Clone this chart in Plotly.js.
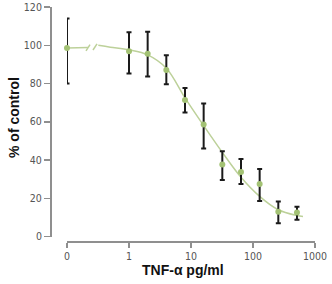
<!DOCTYPE html>
<html>
<head>
<meta charset="utf-8">
<script src="https://cdn.plot.ly/plotly-3.0.1.min.js"></script>
<style>
  html, body { margin: 0; padding: 0; background: #fff; }
  #chart { width: 332px; height: 284px; }
</style>
</head>
<body>
<div id="chart"></div>
<script>
// Dose-response of TNF-α: mean % of control with error bars, plus fitted curve
const controlMean = [98.5];
const controlErrPlus = [15.5];
const controlErrMinus = [18.5];

const doses = [1, 2, 4, 8, 16, 32, 64, 128, 256, 512];          // pg/ml
const meanPct = [96.8, 95.6, 87, 71.4, 58.6, 37.6, 33.7, 27.4, 13, 12.5];
const errPlus = [10, 11.4, 7.8, 6.2, 11, 7, 6.8, 7.9, 5.3, 3.1];
const errMinus = [11.6, 12, 7.4, 6.6, 12.6, 8, 6.3, 8.8, 6.1, 3.8];

// fitted curve, sampled along the dose axis
const fitDoses = [0.32, 0.5, 1, 2, 4, 8, 16, 32, 64, 128, 256, 512, 640];
const fitPct = [100, 99, 97.6, 95, 88, 72.5, 58, 44, 31, 21, 14, 11, 10.5];

const xTickVals = [1, 10, 100, 1000];
const xTickText = ['1', '10', '100', '1000'];
const yTickVals = [0, 20, 40, 60, 80, 100, 120];

const GREEN_LINE = '#bdd19a';
const GREEN_PT = '#a3c274';
const AXIS = '#8f8f8f';
const TICKFONT = { family: 'Liberation Sans Narrow, DejaVu Sans Condensed, Arial Narrow, sans-serif', size: 10.5, color: '#555' };
const TITLEFONT = { family: 'Liberation Sans, Arial, sans-serif', size: 14, color: '#111', weight: 'bold' };

// plot area in pixels: x 50..315, y 7..241
const L = 50, R = 17, T = 7, B = 43, W = 332, H = 284;
const plotW = W - L - R, plotH = H - T - B;
const px = v => (v - L) / plotW;            // pixel -> paper x
const breakEnd = 97;                          // end of the "0" segment of the dose axis
const decadePx = 62;                          // one decade on the log axis
const logStart = -(129 - breakEnd) / decadePx;

const errStyle = (plus, minus) => ({
  type: 'data', symmetric: false, array: plus, arrayminus: minus,
  color: '#1a1a1a', thickness: 2, width: 2.5
});

const connectorEnd = 0.7;  // where the control line reaches the axis break

const traces = [
  { // control level carried toward the axis break
    x: [0, connectorEnd], y: [controlMean[0], controlMean[0] + 0.3],
    xaxis: 'x', yaxis: 'y', mode: 'lines',
    line: { color: GREEN_LINE, width: 1.5 }, cliponaxis: false, hoverinfo: 'skip'
  },
  { // control point
    x: [0], y: controlMean, xaxis: 'x', yaxis: 'y', mode: 'markers',
    marker: { color: GREEN_PT, size: 6 },
    error_y: errStyle(controlErrPlus, controlErrMinus), cliponaxis: false
  },
  { // fitted curve
    x: fitDoses, y: fitPct, xaxis: 'x2', yaxis: 'y', mode: 'lines',
    line: { color: GREEN_LINE, width: 1.5, shape: 'spline', smoothing: 1 },
    cliponaxis: false, hoverinfo: 'skip'
  },
  { // dose means
    x: doses, y: meanPct, xaxis: 'x2', yaxis: 'y', mode: 'markers',
    marker: { color: GREEN_PT, size: 6 },
    error_y: errStyle(errPlus, errMinus), cliponaxis: false
  }
];

const slash = (xc, yc) => ({
  type: 'line', xref: 'paper', yref: 'y',
  x0: px(xc - 2), x1: px(xc + 2), y0: yc - 1.6, y1: yc + 1.6,
  line: { color: GREEN_LINE, width: 1.5 }
});

const layout = {
  width: W, height: H,
  margin: { l: L, r: R, t: T, b: B, pad: 0 },
  paper_bgcolor: '#fff', plot_bgcolor: '#fff',
  showlegend: false,
  xaxis: {
    domain: [px(67), px(breakEnd)], range: [0, 1],
    anchor: 'free', position: 0,
    showline: true, linecolor: AXIS, linewidth: 1.5,
    showgrid: false, zeroline: false,
    ticks: 'outside', ticklen: 5, tickwidth: 1.5, tickcolor: AXIS,
    tickvals: [0], ticktext: ['0'], tickfont: TICKFONT
  },
  xaxis2: {
    type: 'log', domain: [px(breakEnd), 1], range: [logStart, 3],
    anchor: 'free', position: 0,
    showline: true, linecolor: AXIS, linewidth: 1.5,
    showgrid: false, zeroline: false,
    ticks: 'outside', ticklen: 5, tickwidth: 1.5, tickcolor: AXIS,
    tickvals: xTickVals, ticktext: xTickText, tickfont: TICKFONT
  },
  yaxis: {
    domain: [(241 - 236.5) / plotH, 1], range: [0, 120],
    anchor: 'free', position: 0,
    showline: true, linecolor: AXIS, linewidth: 1.5,
    showgrid: false, zeroline: false,
    ticks: 'outside', ticklen: 6, tickwidth: 1.5, tickcolor: AXIS,
    tickvals: yTickVals, tickfont: TICKFONT
  },
  shapes: [
    slash(88, controlMean[0] + 0.2),
    slash(95, controlMean[0] + 0.6)
  ],
  annotations: [
    {
      text: 'TNF-α pg/ml', xref: 'paper', yref: 'paper',
      x: 0.5, y: -(270 - 241) / plotH, xanchor: 'center', yanchor: 'middle',
      showarrow: false, font: TITLEFONT
    },
    {
      text: '% of control', xref: 'paper', yref: 'paper', textangle: -90,
      x: px(14), y: (241 - 118) / plotH, xanchor: 'center', yanchor: 'middle',
      showarrow: false, font: TITLEFONT
    }
  ]
};

Plotly.newPlot('chart', traces, layout, { displayModeBar: false, staticPlot: true });
</script>
</body>
</html>
